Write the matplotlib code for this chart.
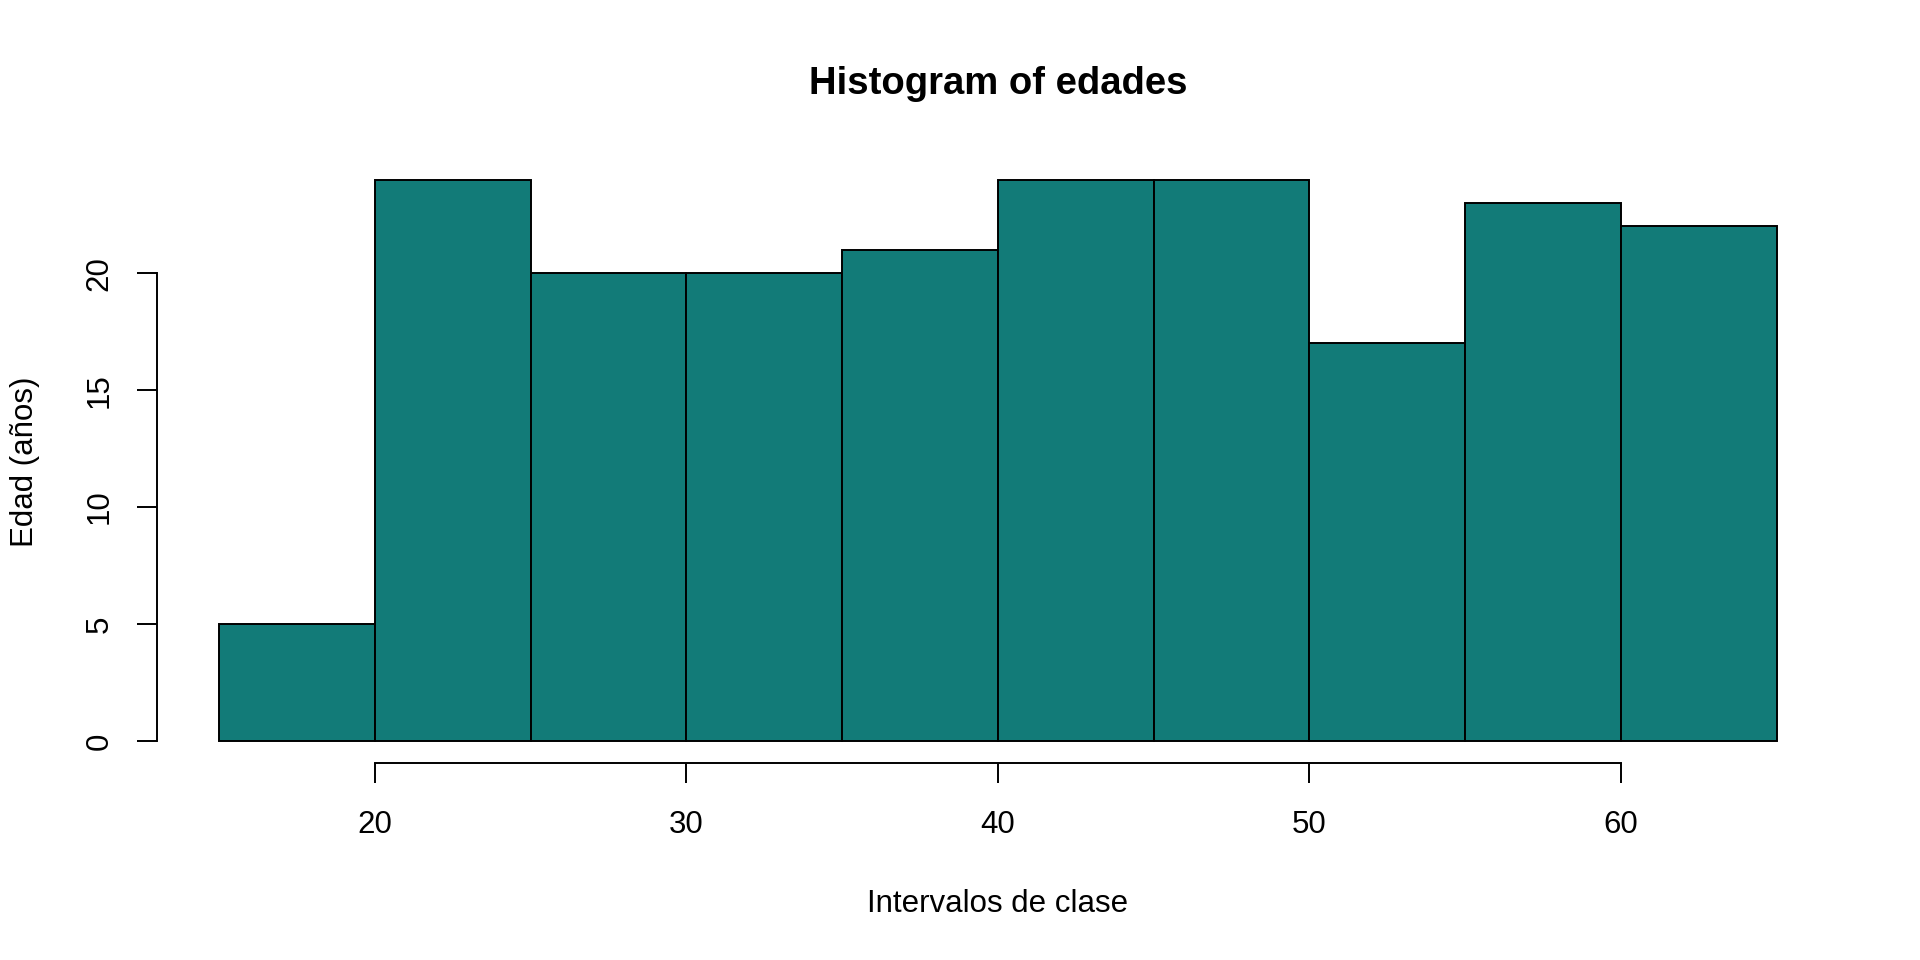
import matplotlib
matplotlib.use("Agg")
import matplotlib.pyplot as plt
import numpy as np

breaks = [15, 20, 25, 30, 35, 40, 45, 50, 55, 60, 65]
counts = [5, 24, 20, 20, 21, 24, 24, 17, 23, 22]
xticks = [20, 30, 40, 50, 60]
yticks = [0, 5, 10, 15, 20]
title = "Histogram of edades"
xlabel = "Intervalos de clase"
ylabel = "Edad (años)"
fill = "#127B78"

plt.rcParams['font.family'] = ['Liberation Sans', 'DejaVu Sans']
fig = plt.figure(figsize=(19.2, 9.6), dpi=100)
ax = fig.add_axes([0.0816, 0.2047, 0.8763, 0.6316])

left = np.array(breaks[:-1])
widths = np.diff(breaks)
ax.bar(left, counts, width=widths, align='edge', color=fill,
       edgecolor='black', linewidth=1.4)

ax.set_xlim(13, 67)
ax.set_ylim(-0.96, 24.96)
for s in ['top', 'right']:
    ax.spines[s].set_visible(False)
ax.spines['left'].set_bounds(0, 20)
ax.spines['bottom'].set_bounds(20, 60)
for s in ['left', 'bottom']:
    ax.spines[s].set_linewidth(1.4)
ax.set_xticks(xticks)
ax.set_yticks(yticks)
ax.set_xticklabels([str(v) for v in xticks])
ax.set_yticklabels([str(v) for v in yticks], rotation=90, va='center')
ax.tick_params(axis='both', direction='out', length=14.4, width=1.4, labelsize=22.5)
ax.tick_params(axis='x', pad=19)
ax.tick_params(axis='y', pad=16)

fig.text(0.5197, 0.913, title, ha='center', va='center', fontsize=27.5, fontweight='bold')
fig.text(0.5197, 0.058, xlabel, ha='center', va='center', fontsize=22.5)
fig.text(0.0128, 0.5195, ylabel, ha='center', va='center', rotation=90, fontsize=22.5)

fig.savefig("out.png", dpi=100)
